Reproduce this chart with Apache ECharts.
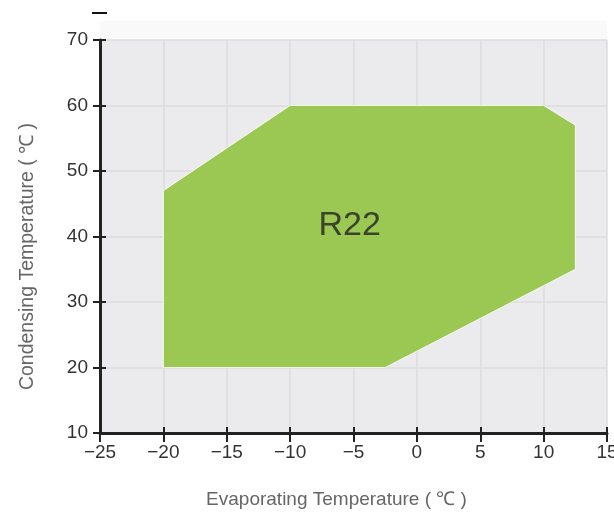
<!DOCTYPE html>
<html>
<head>
<meta charset="utf-8">
<script src="https://cdn.jsdelivr.net/npm/echarts@6/dist/echarts.min.js"></script>
<style>html,body{margin:0;padding:0;background:#fff}#c{width:614px;height:513px}</style>
</head>
<body>
<div id="c"></div>
<script>
// Data
const polyX = [-20, -20, -10, 10, 12.5, 12.5, -2.5];
const polyY = [20, 47, 60, 60, 57, 35, 20];
const labelText = 'R22';
const labelPos = [-5.3, 41.6];
const xName = 'Evaporating Temperature ( ℃ )';
const yName = 'Condensing Temperature ( ℃ )';

const chart = echarts.init(document.getElementById('c'));
const font = '"Liberation Sans", Arial, sans-serif';
const minus = v => String(v).replace('-', '\u2212');
const innerTicks = {
  show: true, position: undefined,
  axisLine: { show: false, onZero: false },
  axisTick: { inside: true, length: 6, lineStyle: { color: '#222', width: 2 } },
  axisLabel: { show: false },
  splitLine: { show: false }
};
chart.setOption({
  animation: false,
  grid: { left: 100, right: 7, top: 40, bottom: 80, show: true, backgroundColor: '#ebebed', borderWidth: 0, outerBoundsMode: 'none', containLabel: false },
  graphic: [
    { type: 'rect', shape: { x: 100, y: 21, width: 507, height: 19 }, style: { fill: '#f9f9f9' }, z: -1 },
    { type: 'line', shape: { x1: 92, y1: 13, x2: 107, y2: 13 }, style: { stroke: '#111', lineWidth: 2 } }
  ],
  xAxis: [{
    type: 'value', min: -25, max: 15, interval: 5,
    name: xName, nameLocation: 'middle', nameGap: 57,
    nameTextStyle: { fontFamily: font, fontSize: 19, color: '#666', padding: [0, 34, 0, 0] },
    axisLine: { onZero: false, lineStyle: { color: '#222', width: 3 } },
    axisTick: { length: 9, lineStyle: { color: '#222', width: 2 } },
    axisLabel: { fontFamily: font, fontSize: 19, color: '#333', margin: 10, formatter: minus },
    splitLine: { show: true, lineStyle: { color: '#dcdcde', width: 1.5 } }
  }, Object.assign({}, innerTicks, { type: 'value', min: -25, max: 15, interval: 5, position: 'bottom', offset: 0 })],
  yAxis: [{
    type: 'value', min: 10, max: 70, interval: 10,
    name: yName, nameLocation: 'middle', nameGap: 62,
    nameTextStyle: { fontFamily: font, fontSize: 19.5, color: '#666', padding: [0, 40, 0, 0] },
    axisLine: { onZero: false, lineStyle: { color: '#222', width: 3 } },
    axisTick: { length: 7, lineStyle: { color: '#222', width: 2 } },
    axisLabel: { fontFamily: font, fontSize: 19, color: '#333', margin: 12 },
    splitLine: { show: true, lineStyle: { color: '#dcdcde', width: 1.5 } }
  }, Object.assign({}, innerTicks, { type: 'value', min: 10, max: 70, interval: 10, position: 'left', offset: 0 })],
  series: [
    {
      type: 'custom',
      data: [0],
      renderItem: function (params, api) {
        const pts = polyX.map((x, i) => api.coord([x, polyY[i]]));
        return { type: 'polygon', shape: { points: pts }, style: { fill: '#9bc852', stroke: '#ffffff', lineWidth: 0.8 } };
      },
      z: 2
    },
    {
      type: 'scatter', symbolSize: 0, data: [labelPos], z: 3,
      label: { show: true, position: 'inside', formatter: labelText, fontFamily: font, fontSize: 34, color: '#222' }
    }
  ]
});
</script>
</body>
</html>
